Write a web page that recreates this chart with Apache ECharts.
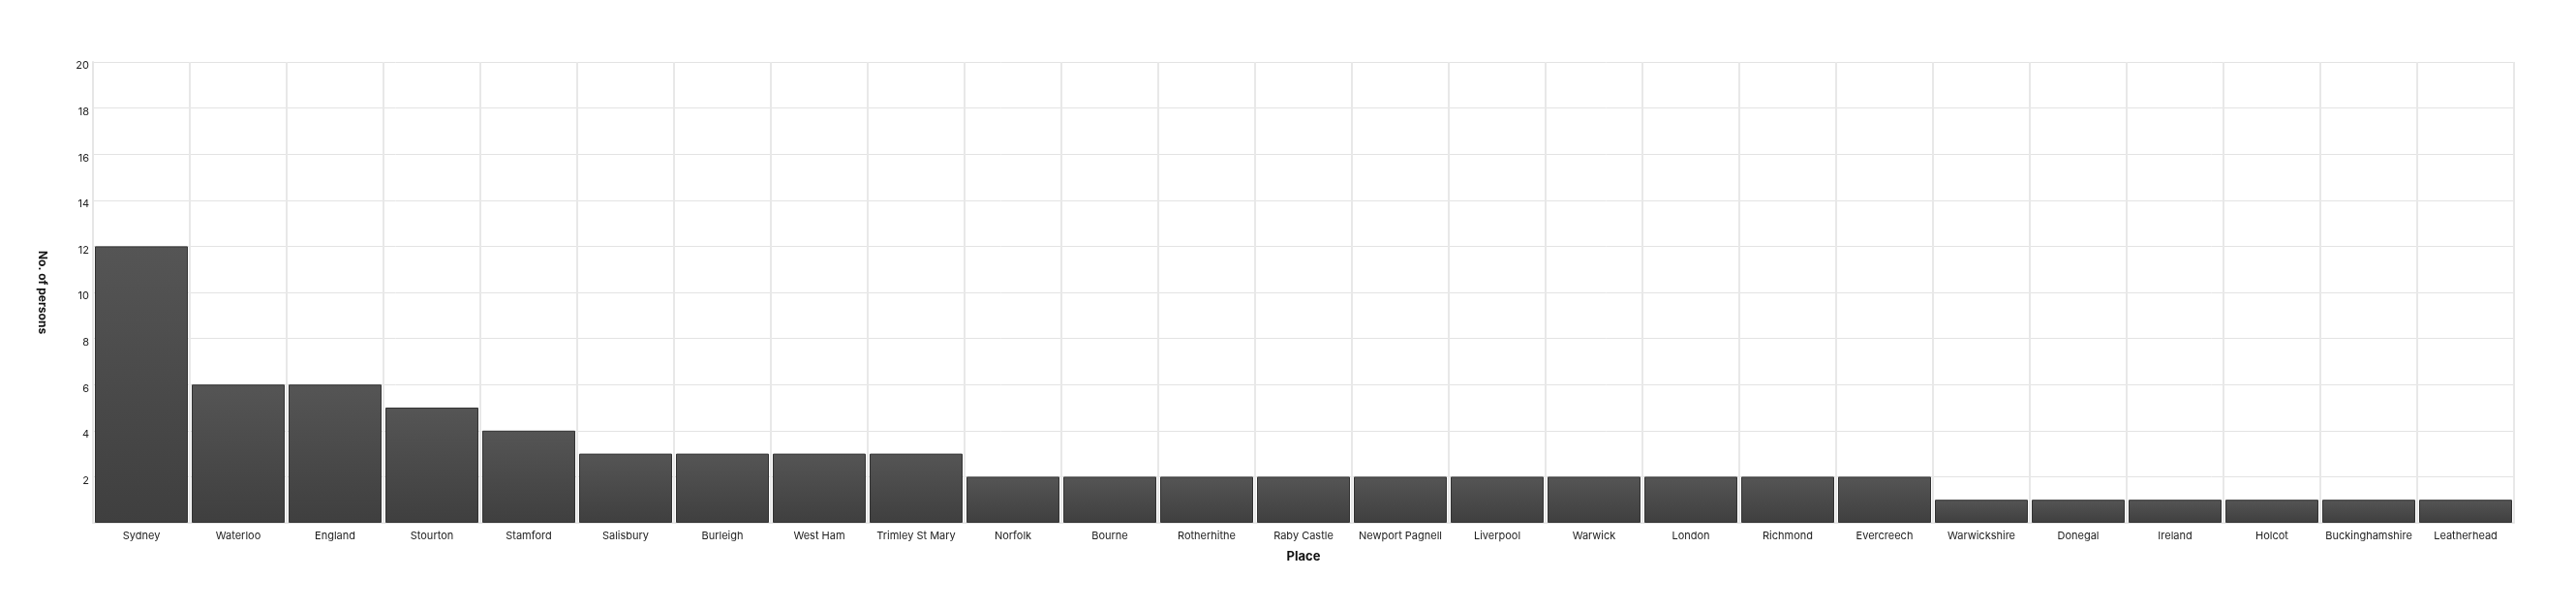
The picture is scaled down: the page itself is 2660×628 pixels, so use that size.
<!DOCTYPE html>
<html>
<head>
<meta charset="utf-8">
<script src="https://cdn.jsdelivr.net/npm/echarts@6/dist/echarts.min.js"></script>
<style>html,body{margin:0;padding:0;background:#fff}#c{width:2660px;height:628px}</style>
</head>
<body>
<div id="c"></div>
<script>
const places = ["Sydney","Waterloo","England","Stourton","Stamford","Salisbury","Burleigh","West Ham","Trimley St Mary","Norfolk","Bourne","Rotherhithe","Raby Castle","Newport Pagnell","Liverpool","Warwick","London","Richmond","Evercreech","Warwickshire","Donegal","Ireland","Holcot","Buckinghamshire","Leatherhead"];
const persons = [12,6,6,5,4,3,3,3,3,2,2,2,2,2,2,2,2,2,2,1,1,1,1,1,1];
const yTicks = [2,4,6,8,10,12,14,16,18,20];

const chart = echarts.init(document.getElementById('c'));
const font = 'Inter, "Noto Sans", sans-serif';
chart.setOption({
  animation: false,
  grid: {left: 96, right: 64, top: 64, bottom: 88, containLabel: false},
  xAxis: {
    type: 'category',
    data: places,
    name: 'Place',
    nameLocation: 'middle',
    nameGap: 29,
    nameTextStyle: {fontFamily: font, fontSize: 13, fontWeight: 'bold', color: '#111'},
    axisLine: {show: true, lineStyle: {color: '#e6e6e6', width: 2}},
    axisTick: {show: false},
    axisLabel: {fontFamily: font, fontSize: 11, color: '#222', margin: 8, interval: 0},
    splitLine: {show: true, interval: 0, lineStyle: {color: '#e8e8e8', width: 2}}
  },
  yAxis: {
    type: 'value',
    min: 0, max: 20, interval: 2,
    name: 'No. of persons',
    nameLocation: 'middle',
    nameRotate: -90,
    nameGap: 46,
    nameTextStyle: {fontFamily: font, fontSize: 12, fontWeight: 'bold', color: '#111'},
    axisLine: {show: true, lineStyle: {color: '#e6e6e6', width: 2}},
    axisTick: {show: false},
    axisLabel: {
      fontFamily: font, fontSize: 11, color: '#222', margin: 4,
      formatter: v => yTicks.includes(v) ? String(v) : '',
      verticalAlign: 'top',
      lineHeight: 8
    },
    splitLine: {show: true, lineStyle: {color: '#e3e3e3', width: 1}}
  },
  series: [{
    type: 'bar',
    data: persons,
    barCategoryGap: '4%',
    itemStyle: {
      color: new echarts.graphic.LinearGradient(0, 0, 0, 1, [
        {offset: 0, color: '#555555'},
        {offset: 1, color: '#3f3f3f'}
      ]),
      borderColor: '#333333',
      borderWidth: 1
    }
  }]
});
</script>
</body>
</html>
